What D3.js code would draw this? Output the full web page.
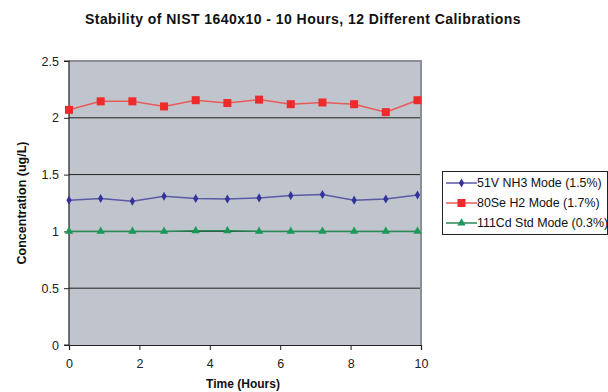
<!DOCTYPE html>
<html lang="en">
<head>
  <meta charset="UTF-8" />
  <title>Stability of NIST 1640x10</title>
  <script src="https://d3js.org/d3.v7.min.js"></script>
  <style>
    html, body {
      margin: 0;
      padding: 0;
      background-color: white;
      overflow: hidden;
    }
    text {
      font-family: "Liberation Sans", Arial, sans-serif;
    }
  </style>
</head>
<body>
  <svg id="chart" width="608" height="392"></svg>

  <script>
    // hours of each calibration run
    const hours = [0, 0.9, 1.8, 2.7, 3.6, 4.5, 5.4, 6.3, 7.2, 8.1, 9.0, 9.9];

    const vNH3 = [1.275, 1.29, 1.265, 1.31, 1.29, 1.285, 1.295, 1.315, 1.325, 1.275, 1.285, 1.32];
    const seH2 = [2.07, 2.145, 2.145, 2.10, 2.155, 2.13, 2.16, 2.12, 2.135, 2.12, 2.05, 2.155];
    const cdStd = [1.0, 1.0, 1.0, 1.0, 1.005, 1.005, 1.0, 1.0, 1.0, 1.0, 1.0, 1.0];

    const seriesNames = ["51V NH3 Mode (1.5%)", "80Se H2 Mode (1.7%)", "111Cd Std Mode (0.3%)"];
    const xTicks = [0, 2, 4, 6, 8, 10];
    const yTicks = [0, 0.5, 1, 1.5, 2, 2.5];

    const series = [
      { name: seriesNames[0], values: vNH3, color: "#333399", line: "#5a5aa8", marker: "diamond" },
      { name: seriesNames[1], values: seH2, color: "#ee2a2a", line: "#e85a5a", marker: "square" },
      { name: seriesNames[2], values: cdStd, color: "#1a9a5a", line: "#2a8a5a", marker: "triangle" }
    ];

    const svg = d3.select("#chart");
    const plotL = 69, plotR = 421, plotT = 61, plotB = 345;

    const x = d3.scaleLinear().domain([0, 10]).range([plotL, plotR]);
    const y = d3.scaleLinear().domain([0, 2.5]).range([plotB, plotT]);

    // plot area
    svg.append("rect")
      .attr("x", plotL).attr("y", plotT)
      .attr("width", plotR - plotL).attr("height", plotB - plotT)
      .attr("fill", "#c0c4cc");

    // gridlines
    svg.selectAll("line.grid")
      .data(yTicks.filter(d => d > 0 && d < 2.5))
      .enter().append("line")
      .attr("class", "grid")
      .attr("x1", plotL).attr("x2", plotR)
      .attr("y1", d => y(d)).attr("y2", d => y(d))
      .attr("stroke", "#222").attr("stroke-width", 1);

    // gray border top/right
    svg.append("path")
      .attr("d", `M${plotL},${plotT}H${plotR}V${plotB}`)
      .attr("fill", "none").attr("stroke", "#8c9096").attr("stroke-width", 2);

    // axes
    const yAxis = d3.axisLeft(y).tickValues(yTicks).tickSize(5).tickPadding(5)
      .tickFormat(d => d);
    const xAxis = d3.axisBottom(x).tickValues(xTicks).tickSize(5).tickPadding(9)
      .tickFormat(d => d);

    const gy = svg.append("g").attr("transform", `translate(${plotL},0)`).call(yAxis);
    const gx = svg.append("g").attr("transform", `translate(0,${plotB})`).call(xAxis);
    [gx, gy].forEach(g => {
      g.select(".domain").attr("stroke", "#222").attr("stroke-width", 1.2);
      g.selectAll(".tick line").attr("stroke", "#222");
      g.selectAll(".tick text").attr("fill", "#222").style("font-size", "12.5px")
        .style("font-family", "'Liberation Sans', Arial, sans-serif");
    });
    gy.select(".domain").attr("d", `M-5,${plotT}H0V${plotB}H-5`);

    const line = d3.line().x((d, i) => x(hours[i])).y(d => y(d));

    const markerPath = {
      diamond: d3.symbol().type(d3.symbolDiamond).size(24),
      square: d3.symbol().type(d3.symbolSquare).size(64),
      triangle: d3.symbol().type(d3.symbolTriangle).size(30)
    };

    series.forEach(s => {
      svg.append("path")
        .datum(s.values)
        .attr("d", line)
        .attr("fill", "none")
        .attr("stroke", s.line)
        .attr("stroke-width", 1.5);

      svg.selectAll(null)
        .data(s.values)
        .enter().append("path")
        .attr("transform", (d, i) => `translate(${x(hours[i])},${y(d)})`)
        .attr("d", markerPath[s.marker]())
        .attr("fill", s.color);
    });

    // title
    svg.append("text")
      .attr("x", 303).attr("y", 24)
      .attr("text-anchor", "middle")
      .style("font-size", "14px").style("font-weight", "bold")
      .style("letter-spacing", "0.45px")
      .attr("fill", "#111")
      .text("Stability of NIST 1640x10 - 10 Hours, 12 Different Calibrations");

    svg.append("text")
      .attr("transform", `translate(26,${(plotT + plotB) / 2}) rotate(-90)`)
      .attr("text-anchor", "middle")
      .style("font-size", "12.5px").style("font-weight", "bold")
      .attr("fill", "#111")
      .text("Concentration (ug/L)");

    svg.append("text")
      .attr("x", 243).attr("y", 388)
      .attr("text-anchor", "middle")
      .style("font-size", "12px").style("font-weight", "bold")
      .attr("fill", "#111")
      .text("Time (Hours)");

    // legend
    const lg = svg.append("g").attr("transform", "translate(442,171)");
    lg.append("rect")
      .attr("x", 0.5).attr("y", 0.5)
      .attr("width", 165).attr("height", 63)
      .attr("fill", "white").attr("stroke", "#222");

    series.forEach((s, i) => {
      const yy = 12 + i * 20;
      lg.append("line")
        .attr("x1", 4).attr("x2", 35)
        .attr("y1", yy).attr("y2", yy)
        .attr("stroke", s.line).attr("stroke-width", 1.5);
      lg.append("path")
        .attr("transform", `translate(19.5,${yy})`)
        .attr("d", markerPath[s.marker]())
        .attr("fill", s.color);
      lg.append("text")
        .attr("x", 35).attr("y", yy + 4)
        .style("font-size", "12.4px")
        .attr("fill", "#111")
        .text(s.name);
    });
  </script>
</body>
</html>
